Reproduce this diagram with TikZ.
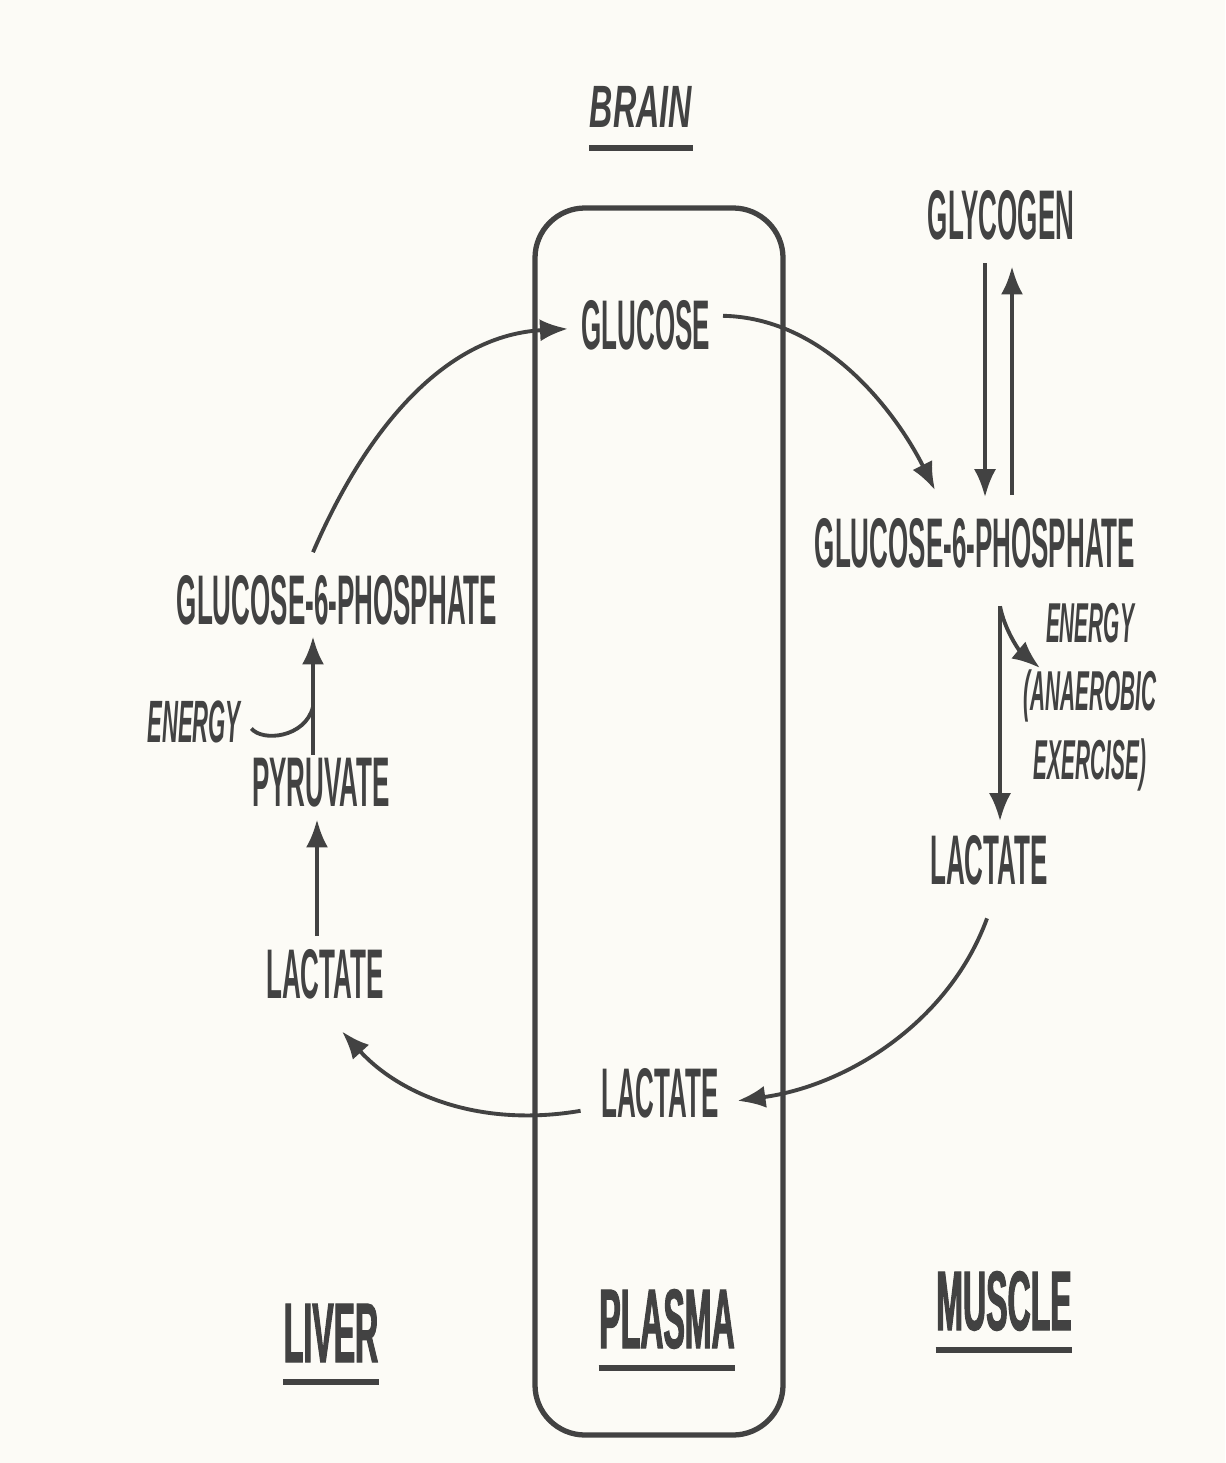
\documentclass[tikz,border=0pt]{standalone}
\usepackage{fontspec}
\setmainfont{Liberation Sans}
\newfontfamily\cnd[FakeStretch=0.37]{Liberation Sans}
\newfontfamily\cndh[FakeStretch=0.38,FakeBold=1.2]{Liberation Sans}
\newfontfamily\cndw[FakeStretch=0.54]{Liberation Sans}
\usetikzlibrary{arrows.meta,calc}
\definecolor{ink}{HTML}{424242}
\definecolor{paper}{HTML}{FCFBF6}

\begin{document}
\begin{tikzpicture}[x=0.1mm,y=-0.1mm,>={Latex[length=2.8mm,width=2.2mm]},
  lbl/.style={inner sep=0,anchor=base,text=ink,font=\cnd\bfseries\fontsize{20}{20}\selectfont},
  ital/.style={lbl,font=\cnd\bfseries\itshape\fontsize{17}{19.5}\selectfont},
  head/.style={lbl,font=\cndh\bfseries\fontsize{24}{24}\selectfont},
  flow/.style={->,draw=ink,line width=1.1pt},
  uline/.style={draw=ink,line width=1.6pt}]
\useasboundingbox[fill=paper] (0,0) rectangle (1225,1463);
% plasma compartment
\draw[ink,line width=1.5pt,rounded corners=5mm] (535,208) rectangle (783,1435);
% headings
\node[lbl,font=\cndw\bfseries\itshape\fontsize{17}{17}\selectfont] (brain) at (641,128) {BRAIN};
\node[head] (liver) at (331,1362) {LIVER};
\node[head] (plasma) at (667,1348) {PLASMA};
\node[head] (muscle) at (1004,1330) {MUSCLE};
\foreach \n in {brain,liver,plasma,muscle}
  \draw[uline] ($(\n.base west)+(0,20)$) -- ($(\n.base east)+(0,20)$);
% metabolites
\node[lbl] (glucose) at (646,350) {GLUCOSE};
\node[lbl] (glycogen) at (1001,240) {GLYCOGEN};
\node[lbl] (rg6p) at (975,567) {GLUCOSE-6-PHOSPHATE};
\node[lbl] (rlac) at (989,884) {LACTATE};
\node[lbl] (plac) at (660,1117) {LACTATE};
\node[lbl] (llac) at (325,998) {LACTATE};
\node[lbl] (pyr) at (321,806) {PYRUVATE};
\node[lbl] (lg6p) at (337,624) {GLUCOSE-6-PHOSPHATE};
\node[ital] (eleft) at (194,742) {ENERGY};
\node[ital,font=\cnd\bfseries\itshape\fontsize{16}{19.5}\selectfont,align=center,anchor=center] (eright) at (1090,697) {ENERGY\\(ANAEROBIC\\EXERCISE)};
% muscle side
\draw[flow] ($(glucose.east)+(12,-10)$) .. controls (830,318) and (900,420) .. ($(rg6p.north)+(-40,-27)$);
\draw[flow] ($(glycogen.south)+(-16,22)$) -- ($(rg6p.north)+(10,-20)$);
\draw[flow] ($(rg6p.north)+(37,-22)$) -- ($(glycogen.south)+(11,25)$);
\coordinate (fork) at ($(rg6p.south)+(25,38)$);
\coordinate (etip) at (1040,668);
\draw[flow] (fork) -- ($(rlac.north)+(11,-13)$);
\draw[flow] (fork) .. controls ($(fork)+(5,25)$) and ($(fork)+(20,45)$) .. (etip);
\draw[flow] ($(rlac.south)+(-2,33)$) .. controls (950,1020) and (850,1085) .. ($(plac.east)+(18,8)$);
% liver side
\draw[flow] ($(plac.west)+(-20,18)$) .. controls (480,1128) and (400,1095) .. ($(llac.south)+(17,32)$);
\draw[flow] ($(llac.north)+(-8,-12)$) -- ($(pyr.south)+(-4,12)$);
\draw[flow] ($(pyr.north)+(-8,-2)$) -- ($(lg6p.south)+(-24,11)$);
\draw[ink,line width=1.1pt] ($(eleft.east)+(10,7)$) .. controls (262,742) and (305,738) .. ($(pyr.north)+(-8,-50)$);
\draw[flow] ($(lg6p.north)+(-24,-22)$) .. controls (370,420) and (450,335) .. ($(glucose.west)+(-13,3)$);
\end{tikzpicture}
\end{document}
